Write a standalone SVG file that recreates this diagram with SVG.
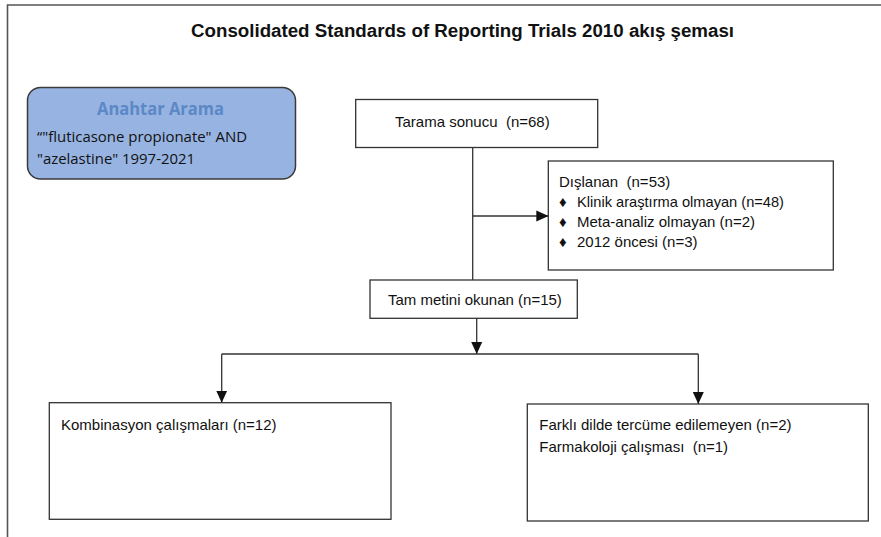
<svg xmlns="http://www.w3.org/2000/svg" width="881" height="537" viewBox="0 0 881 537">
<defs>
<style>
.frame{fill:none;stroke:#555;stroke-width:1.6}
.box{fill:#fff;stroke:#333;stroke-width:1.3}
.key{fill:#97b3e1;stroke:#3a3a3a;stroke-width:1.5}
.t{font-family:"Liberation Sans",Arial,sans-serif;font-size:15px;fill:#111;white-space:pre}
.title{font-family:"Liberation Sans",Arial,sans-serif;font-size:18px;font-weight:bold;fill:#111}
.kt{font-family:"Open Sans","Noto Sans",sans-serif;font-size:15px;fill:#111}
.kh{font-family:"Open Sans","Noto Sans",sans-serif;font-size:18px;font-weight:bold;fill:#5b88c6}
.c{fill:none;stroke:#333;stroke-width:1.3}
</style>
<marker id="ah" viewBox="0 0 12 12" refX="12" refY="6" markerWidth="12" markerHeight="12" orient="auto" markerUnits="userSpaceOnUse">
<path d="M0,0.5 L12,6 L0,11.5 z" fill="#111"/>
</marker>
</defs>
<rect width="881" height="537" fill="#fff"/>
<path class="frame" d="M7.5,537 V5 H881"/>
<text class="title" x="191" y="36.5" textLength="543" lengthAdjust="spacingAndGlyphs">Consolidated Standards of Reporting Trials 2010 akış şeması</text>

<g id="anahtar">
<rect class="key" x="27.5" y="87.5" width="268" height="91.5" rx="13" ry="13"/>
<text class="kh" x="97" y="115" textLength="127" lengthAdjust="spacingAndGlyphs">Anahtar Arama</text>
<text class="kt" x="37" y="142" textLength="210" lengthAdjust="spacingAndGlyphs">“"fluticasone propionate" AND</text>
<text class="kt" x="37" y="163.5" textLength="158" lengthAdjust="spacingAndGlyphs">"azelastine" 1997-2021</text>
</g>

<g id="tarama">
<rect class="box" x="355.7" y="99.5" width="242" height="48"/>
<text class="t" x="395" y="127" xml:space="preserve">Tarama sonucu  (n=68)</text>
</g>

<g id="dislanan">
<rect class="box" x="548.3" y="161" width="285" height="109"/>
<text class="t" x="559" y="187" xml:space="preserve">Dışlanan  (n=53)</text>
<text class="t" x="559" y="207" font-size="11">♦</text>
<text class="t" x="577" y="207" textLength="207" lengthAdjust="spacingAndGlyphs">Klinik araştırma olmayan (n=48)</text>
<text class="t" x="559" y="227" font-size="11">♦</text>
<text class="t" x="577" y="227">Meta-analiz olmayan (n=2)</text>
<text class="t" x="559" y="247" font-size="11">♦</text>
<text class="t" x="577" y="247">2012 öncesi (n=3)</text>
</g>

<g id="tammetin">
<rect class="box" x="370" y="280" width="207.3" height="38.3"/>
<text class="t" x="388" y="305">Tam metini okunan (n=15)</text>
</g>

<g id="kombinasyon">
<rect class="box" x="49.3" y="402.7" width="341.7" height="116.6"/>
<text class="t" x="61" y="430">Kombinasyon çalışmaları (n=12)</text>
</g>

<g id="farkli">
<rect class="box" x="527.3" y="404" width="341" height="117"/>
<text class="t" x="539.3" y="430">Farklı dilde tercüme edilemeyen (n=2)</text>
<text class="t" x="539.3" y="452" xml:space="preserve">Farmakoloji çalışması  (n=1)</text>
</g>

<g id="connectors">
<line class="c" x1="472.7" y1="147.5" x2="472.7" y2="280"/>
<line class="c" x1="472.7" y1="216" x2="548.3" y2="216" marker-end="url(#ah)"/>
<line class="c" x1="476.7" y1="318.3" x2="476.7" y2="354" marker-end="url(#ah)"/>
<line class="c" x1="221.7" y1="354" x2="698.3" y2="354"/>
<line class="c" x1="221.7" y1="354" x2="221.7" y2="402.7" marker-end="url(#ah)"/>
<line class="c" x1="698.3" y1="354" x2="698.3" y2="404" marker-end="url(#ah)"/>
</g>
</svg>
